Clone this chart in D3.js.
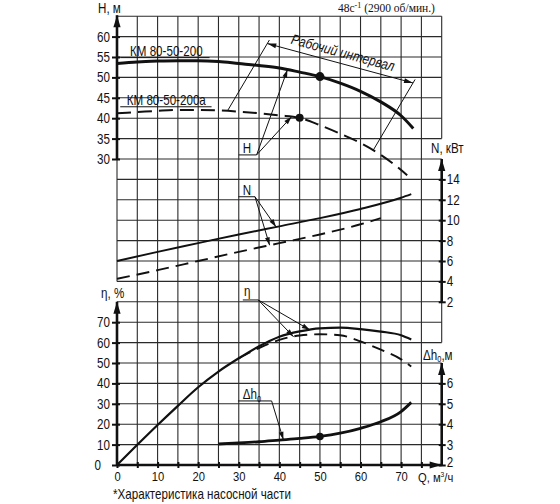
<!DOCTYPE html>
<html><head><meta charset="utf-8">
<script src="https://cdn.jsdelivr.net/npm/d3@7"></script>
<style>
body{margin:0;background:#fff;}
svg{display:block;background:#fff;}
text{font-family:"Liberation Sans Narrow","Liberation Sans",Arial,sans-serif;fill:#111;}
</style></head><body>
<svg id="c" width="560" height="504"></svg>
<script>
// ---- tick labels ----
const qTicks = [0,5,10,15,20,25,30,35,40,45,50,55,60,65,70,75];
const hTicks = [30,35,40,45,50,55,60];
const nTicks = [2,4,6,8,10,12,14];
const etaTicks = [0,10,20,30,40,50,60,70];
const dhTicks = [2,3,4,5,6];

// ---- head H, m ----
const qH200  = [0,5,10,15,20,25,30,35,40,45,50,55,60,65,70,73];
const h200   = [53.4,53.8,54.0,54.1,54.1,53.9,53.4,52.9,52.3,51.3,50.2,48.6,46.6,44.0,40.6,37.5];
const qH200a = [0,5,10,15,20,25,30,35,40,45,50,55,60,65,70,71.5];
const h200a  = [41.2,41.5,41.8,42.0,42.0,41.9,41.6,41.2,40.7,40.1,38.3,36.2,33.9,31.0,27.3,26.0];

// ---- power N, kW ----
const qN200  = [0,10,20,30,40,50,60,70,72.5];
const n200   = [6.0,6.9,7.75,8.6,9.4,10.2,11.1,12.2,12.55];
const qN200a = [0,10,20,30,40,50,60,65];
const n200a  = [4.25,5.1,6.0,6.9,7.75,8.6,9.6,10.2];

// ---- efficiency eta, % ----
const qEta200  = [0,5,10,15,20,25,30,35,40,45,50,55,60,65,70,72.5];
const eta200   = [0,9.9,19.6,29,38.1,45.8,52.3,58.2,62.9,65.5,67.0,67.3,66.6,65.4,63.6,61.5];
const qEta200a = [30,35,40,45,50,55,60,65,70,72.5];
const eta200a  = [52.3,57.3,61.3,63.5,64.1,63.6,60.6,56.5,51.8,48.3];

// ---- NPSH dh, m ----
const qDh = [25,30,35,40,45,50,55,60,65,70,72.5];
const dh  = [3.03,3.08,3.14,3.22,3.3,3.4,3.56,3.8,4.12,4.62,5.07];

// ---- duty points ----
const dutyH200 = 50, dutyH200a = 45, dutyDh = 50;
// working interval on 200a curve
const workFrom = 27.2, workTo = 63.1;

const svg = d3.select("#c");
const x = d3.scaleLinear([0,80],[117,441.7]);
const row = d3.scaleLinear([0,22],[465,16.2]);
const yH = d3.scaleLinear([30,60],[row(15),row(21)]);
const yN = d3.scaleLinear([2,14],[row(8),row(14)]);
const yEta = d3.scaleLinear([0,70],[row(0),row(7)]);
const yDh = d3.scaleLinear([2,6],[row(0),row(4)]);

const INK = "#111";
const K = 0.83; // horizontal compression to mimic narrow drafting font
function narrow(sel,k=K){
  sel.each(function(){
    const t=d3.select(this);
    const xx=+t.attr("x")||0, yy=+t.attr("y")||0;
    const prev=t.attr("transform")||"";
    t.attr("x",0).attr("y",0).attr("transform",`${prev} translate(${xx},${yy}) scale(${k},1)`);
  });
  return sel;
}

// ---- grid ----
const grid = svg.append("g").attr("stroke","#2a2a2a").attr("stroke-width",1.1);
d3.range(0,23).forEach(r=>{
  grid.append("line").attr("x1",x(0)).attr("x2",x(80)).attr("y1",row(r)).attr("y2",row(r));
});
d3.range(0,81,5).forEach(q=>{
  let segs = [[0,22]];
  if(q===0) segs=[[0,8],[9,22]];
  if(q===80) segs=[[0,5],[6,15],[16,22]];
  segs.forEach(s=>grid.append("line").attr("x1",x(q)).attr("x2",x(q)).attr("y1",row(s[0])).attr("y2",row(s[1])));
});

// ---- arrow helper ----
function head(g,x1,y1,x2,y2,len,w){
  const a=Math.atan2(y2-y1,x2-x1), c=Math.cos(a), s=Math.sin(a);
  const bx=x2-len*c, by=y2-len*s;
  g.append("path").attr("d",`M${x2},${y2}L${bx-w*s},${by+w*c}L${bx+w*s},${by-w*c}Z`).attr("fill",INK);
}
const ax = svg.append("g");
function axisLine(x1,y1,x2,y2){
  ax.append("line").attr("x1",x1).attr("y1",y1).attr("x2",x2).attr("y2",y2).attr("stroke",INK).attr("stroke-width",2.6);
  head(ax,x1,y1,x2,y2,12,3.6);
}
axisLine(x(0),yH(30),x(0),row(22)-1);
axisLine(x(0),row(0),x(0),row(8));
axisLine(x(0),row(0),x(80),row(0));
axisLine(x(80),yN(2),x(80),row(15));
axisLine(x(80),row(0),x(80),row(5));

// ---- axes (ticks + labels) ----
function styleAxis(g){
  g.select(".domain").remove();
  g.selectAll(".tick line").attr("stroke",INK).attr("stroke-width",2);
  g.selectAll(".tick text").style("font-size","14px");
}
const fmt = d3.format("d");
svg.append("g").attr("transform",`translate(${x(0)},0)`)
  .call(d3.axisLeft(yH).tickValues(hTicks).tickFormat(fmt).tickSize(5).tickPadding(2))
  .call(g=>{styleAxis(g);g.selectAll(".tick line").attr("x1",3);narrow(g.selectAll(".tick text"));});
svg.append("g").attr("transform",`translate(${x(0)},0)`)
  .call(d3.axisLeft(yEta).tickValues(etaTicks).tickFormat(fmt).tickSize(5).tickPadding(2))
  .call(g=>{styleAxis(g);g.selectAll(".tick line").attr("x1",3);
    g.selectAll(".tick text").filter(d=>d===0).attr("x",-16);narrow(g.selectAll(".tick text"));});
svg.append("g").attr("transform",`translate(${x(80)},0)`)
  .call(d3.axisRight(yN).tickValues(nTicks).tickFormat(fmt).tickSize(4).tickPadding(1))
  .call(g=>{styleAxis(g);g.selectAll(".tick line").attr("x1",-3);narrow(g.selectAll(".tick text"));});
svg.append("g").attr("transform",`translate(${x(80)},0)`)
  .call(d3.axisRight(yDh).tickValues(dhTicks).tickFormat(fmt).tickSize(4).tickPadding(1))
  .call(g=>{styleAxis(g);g.selectAll(".tick line").attr("x1",-3);
    g.selectAll(".tick text").filter(d=>d===2).attr("y",-3);
    narrow(g.selectAll(".tick text"));});
svg.append("g").attr("transform",`translate(0,${row(0)})`)
  .call(d3.axisBottom(x).tickValues(qTicks).tickSize(3).tickFormat(d=>d%10===0?fmt(d):""))
  .call(g=>{styleAxis(g);g.selectAll(".tick line").attr("y1",-3);
    g.selectAll(".tick text").attr("y",16).attr("dy",0).style("font-size","13.5px");
    narrow(g.selectAll(".tick text"));});

// ---- curves ----
const mk = (qs,vs,ys)=> d3.line().curve(d3.curveMonotoneX).x((d,i)=>x(qs[i])).y(d=>ys(d))(vs);
const curves = svg.append("g").attr("fill","none").attr("stroke",INK).attr("stroke-linecap","butt");
curves.append("path").attr("d",mk(qH200,h200,yH)).attr("stroke-width",3);
curves.append("path").attr("d",mk(qH200a,h200a,yH)).attr("stroke-width",2).attr("stroke-dasharray","14,7");
curves.append("path").attr("d",mk(qN200,n200,yN)).attr("stroke-width",1.9);
curves.append("path").attr("d",mk(qN200a,n200a,yN)).attr("stroke-width",1.9).attr("stroke-dasharray","13,7");
curves.append("path").attr("d",mk(qEta200,eta200,yEta)).attr("stroke-width",2.2);
curves.append("path").attr("d",mk(qEta200a,eta200a,yEta)).attr("stroke-width",1.9).attr("stroke-dasharray","13,7");
curves.append("path").attr("d",mk(qDh,dh,yDh)).attr("stroke-width",2.8);

const at = (qs,vs,q)=> d3.scaleLinear(qs,vs)(q);
svg.append("circle").attr("cx",x(dutyH200)).attr("cy",yH(at(qH200,h200,dutyH200))).attr("r",4.5).attr("fill",INK);
svg.append("circle").attr("cx",x(dutyH200a)).attr("cy",yH(at(qH200a,h200a,dutyH200a))).attr("r",4).attr("fill",INK);
svg.append("circle").attr("cx",x(dutyDh)).attr("cy",yDh(at(qDh,dh,dutyDh))).attr("r",3.8).attr("fill",INK);

// ---- annotations ----
const ann = svg.append("g").attr("stroke",INK).attr("stroke-width",1).attr("fill","none");
function seg(x1,y1,x2,y2){ann.append("line").attr("x1",x1).attr("y1",y1).attr("x2",x2).attr("y2",y2);}
function leader(x1,y1,x2,y2){seg(x1,y1,x2,y2);head(svg,x1,y1,x2,y2,8,2.4);}
function label(tx,ty,txt,size){
  const t=svg.append("text").attr("x",tx).attr("y",ty).style("font-size",(size||14)+"px").text(txt);
  narrow(t); return t;
}

// working interval
const ext = [42,-71];
const pL = [x(workFrom), yH(at(qH200a,h200a,workFrom))];
const pR = [x(workTo), yH(at(qH200a,h200a,workTo))];
seg(pL[0],pL[1],pL[0]+ext[0],pL[1]+ext[1]);
seg(pR[0],pR[1],pR[0]+ext[0],pR[1]+ext[1]);
const f=0.95;
const dA=[pL[0]+ext[0]*f,pL[1]+ext[1]*f], dB=[pR[0]+ext[0]*f,pR[1]+ext[1]*f];
seg(dA[0],dA[1],dB[0],dB[1]);
head(svg,dB[0],dB[1],dA[0],dA[1],9,2.4);
head(svg,dA[0],dA[1],dB[0],dB[1],9,2.4);
const ang = Math.atan2(dB[1]-dA[1],dB[0]-dA[0])*180/Math.PI;
const mx=(dA[0]+dB[0])/2, my=(dA[1]+dB[1])/2;
narrow(svg.append("text").attr("transform",`translate(${mx},${my}) rotate(${ang})`)
  .attr("x",0).attr("y",-6).attr("text-anchor","middle").style("font-size","14.5px").style("font-style","italic")
  .text("Рабочий интервал"));

// labels with shelves
function shelfLabel(txt,tx,ty,s0,s1,sy){ label(tx,ty,txt); seg(s0,sy,s1,sy); }
// H
shelfLabel("H",x(31),yH(31.5),x(30),x(34.4),yH(31));
leader(x(34.4),yH(31),x(42),yH(at(qH200,h200,42)));
leader(x(34.4),yH(31),x(43),yH(at(qH200a,h200a,43)));
// N
shelfLabel("N",x(31),yN(12.5),x(29.9),x(34),yN(12.3));
leader(x(34),yN(12.3),x(39.2),yN(at(qN200,n200,39.2)));
leader(x(34),yN(12.3),x(37.6),yN(at(qN200a,n200a,37.6)));
// eta
shelfLabel("η",x(31.3),yEta(82.6),x(31),x(34.8),yEta(80.9));
leader(x(34.8),yEta(80.9),x(47.5),yEta(at(qEta200,eta200,47.5)));
leader(x(34.8),yEta(80.9),x(43.5),yEta(at(qEta200a,eta200a,43.5)));
// dh
const dhl = svg.append("text").attr("x",x(31)).attr("y",yDh(5.24)).style("font-size","14px");
dhl.append("tspan").text("Δh");
dhl.append("tspan").attr("dy",3).style("font-size","9px").text("0");
narrow(dhl);
seg(x(29.8),yDh(5.14),x(38.1),yDh(5.14));
leader(x(38.1),yDh(5.14),x(41),yDh(at(qDh,dh,41)));

// curve names
label(x(3.2),yH(55.3),"КМ 80-50-200");
seg(x(0.8),yH(54.85),x(22.8),yH(54.85));
label(x(2.4),yH(43.2),"КМ 80-50-200а");
seg(x(0.8),yH(42.8),x(23.3),yH(42.8));

// axis titles
label(98,13,"H, м");
label(431,153,"N, кВт");
label(101,298,"η, %");
const dt = svg.append("text").attr("x",423).attr("y",360).style("font-size","14px");
dt.append("tspan").text("Δh");
dt.append("tspan").attr("dy",2).style("font-size","9px").text("0");
dt.append("tspan").attr("dy",-2).text(",м");
narrow(dt);
const qt = svg.append("text").attr("x",418).attr("y",482).style("font-size","13.5px");
qt.append("tspan").text("Q, м");
qt.append("tspan").attr("dy",-5).style("font-size","8px").text("3");
qt.append("tspan").attr("dy",5).text("/ч");
narrow(qt);
const sp = svg.append("text").attr("x",338).attr("y",12).style("font-family","'Liberation Serif','DejaVu Serif',serif").style("font-size","11.5px");
sp.append("tspan").text("48c");
sp.append("tspan").attr("dy",-4).style("font-size","8px").text("-1");
sp.append("tspan").attr("dy",4).text("  (2900 об/мин.)");
label(113,499,"*Характеристика насосной части",14);
</script>
</body></html>
